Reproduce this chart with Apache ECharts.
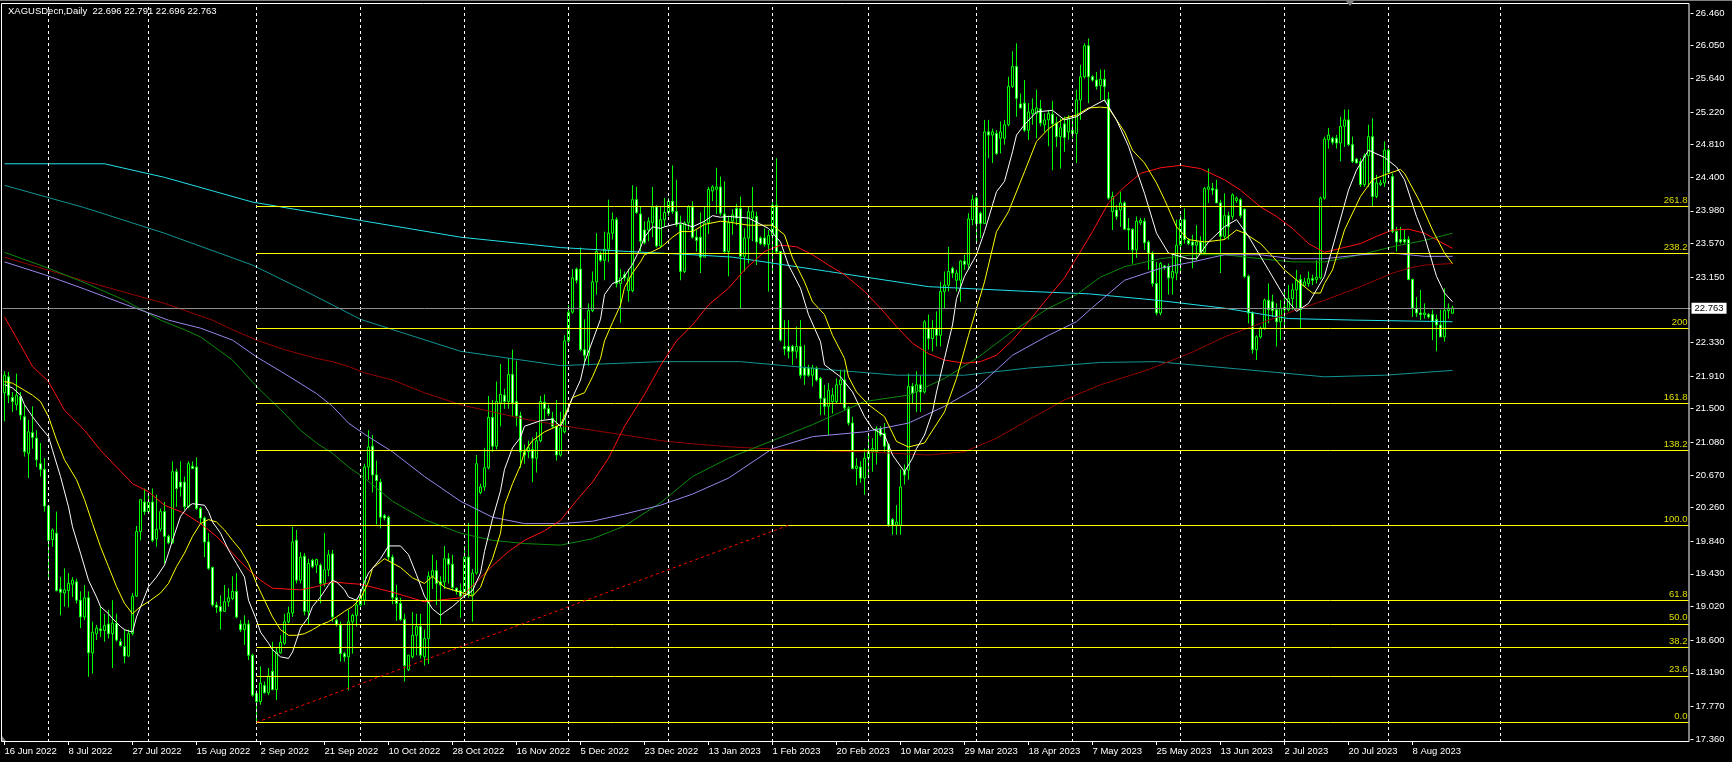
<!DOCTYPE html>
<html><head><meta charset="utf-8">
<script src="https://cdn.jsdelivr.net/npm/echarts/dist/echarts.min.js"></script>
<style>html,body{margin:0;padding:0;background:#000;}#c{width:1732px;height:762px;}</style>
</head><body><div id="c"></div>
<script>
const symbolTitle = 'XAGUSDecn,Daily  22.696 22.791 22.696 22.763';
const dateLabels = ['16 Jun 2022','8 Jul 2022','27 Jul 2022','15 Aug 2022','2 Sep 2022','21 Sep 2022','10 Oct 2022','28 Oct 2022','16 Nov 2022','5 Dec 2022','23 Dec 2022','13 Jan 2023','1 Feb 2023','20 Feb 2023','10 Mar 2023','29 Mar 2023','18 Apr 2023','7 May 2023','25 May 2023','13 Jun 2023','2 Jul 2023','20 Jul 2023','8 Aug 2023'];
const BARS_PER_LABEL = 16;
const TOTAL_SLOTS = 422;
const priceTicks = [26.460,26.050,25.640,25.220,24.810,24.400,23.980,23.570,23.150,22.330,21.910,21.500,21.080,20.670,20.260,19.840,19.430,19.020,18.600,18.190,17.770,17.360];
const monthStartBars = [11,36,63,89,115,141,166,192,216,243,267,294,320,346,374];

// OHLC, one entry per daily bar
const open = [
21.70,21.90,21.64,21.55,21.65,21.40,20.94,21.20,21.13,20.81,
20.74,20.28,19.86,19.94,19.24,19.19,19.22,19.30,19.33,19.10,
18.89,19.13,18.44,18.68,18.74,18.72,18.80,18.68,18.81,18.58,
18.52,18.40,18.68,19.15,19.96,20.33,20.21,20.33,19.87,19.99,
20.21,19.90,19.82,20.71,20.58,20.58,20.27,20.78,20.77,20.25,
20.13,19.83,19.51,19.04,19.02,18.96,19.08,19.12,19.21,18.80,
18.73,18.80,18.41,17.93,17.83,18.03,17.94,18.21,17.98,18.44,
18.56,18.83,18.94,19.85,19.35,19.65,18.96,19.60,19.54,19.54,
19.31,19.48,19.68,18.85,18.79,18.43,18.39,18.83,18.91,19.04,
19.10,20.77,21.03,20.67,20.58,20.16,20.14,19.64,19.13,19.06,
18.86,18.23,18.39,18.66,18.77,18.39,18.62,19.40,19.47,19.33,
19.33,19.62,19.55,19.25,19.22,19.15,19.64,19.17,19.44,20.45,
20.52,20.76,21.39,21.03,21.57,21.67,21.59,21.93,21.59,21.41,
20.96,20.96,20.99,20.88,21.10,21.58,21.50,21.38,21.28,20.92,
21.21,22.35,22.71,23.25,23.25,22.24,22.17,22.73,23.09,23.43,
23.36,23.50,23.70,23.87,23.07,23.18,22.98,22.98,24.12,23.94,
23.74,23.74,23.83,24.03,23.54,23.87,23.96,24.10,23.97,23.81,
23.22,23.83,24.03,23.65,23.65,23.40,23.83,24.23,24.25,24.28,
23.94,23.47,23.85,24.01,24.01,23.41,23.64,23.89,23.91,23.64,
23.64,23.56,23.67,24.05,23.47,22.28,22.28,22.28,22.22,22.28,
22.01,22.01,21.92,22.01,21.88,21.63,21.53,21.59,21.59,21.80,
21.86,21.51,21.32,20.75,20.77,20.63,20.88,20.96,20.96,21.25,
21.19,21.05,20.11,20.04,20.04,20.73,20.73,21.78,21.71,21.80,
21.71,22.51,22.38,22.51,22.42,22.97,23.05,23.26,23.11,23.11,
23.35,23.31,23.87,24.14,23.95,23.82,24.97,24.93,24.95,24.89,
24.89,25.06,25.54,25.79,25.32,25.33,24.99,25.20,25.20,25.26,
25.06,25.12,25.19,25.08,24.91,25.07,24.97,24.99,24.95,25.37,
25.66,26.05,25.66,25.62,25.55,25.63,25.38,23.97,23.99,23.99,
24.08,23.76,23.75,23.49,23.83,23.85,23.59,23.45,23.07,22.70,
23.29,23.28,23.14,23.20,23.55,23.87,23.61,23.59,23.55,23.59,
23.46,24.25,24.26,24.25,24.08,23.66,23.92,23.91,24.11,24.12,
24.00,23.16,22.70,22.24,22.40,22.51,22.86,22.84,22.74,22.59,
22.74,22.74,22.88,22.99,23.12,23.04,23.07,23.13,23.12,23.14,
24.14,24.87,24.89,24.89,24.83,25.04,25.12,24.81,24.63,24.60,
24.31,24.67,24.91,24.16,24.31,24.33,24.74,24.41,23.72,23.62,
23.62,23.62,23.12,22.76,22.70,22.68,22.68,22.68,22.62,22.55,
22.40,22.73,22.696];
const high = [
21.97,21.96,21.71,21.94,21.71,21.55,21.36,21.53,21.23,21.07,
20.88,20.29,20.00,20.21,19.39,19.50,19.44,19.39,19.37,19.21,
19.29,19.21,18.83,18.79,19.02,18.93,18.98,19.10,18.93,18.62,
18.74,18.73,19.19,20.03,20.36,20.50,20.44,20.50,20.42,20.25,
20.33,19.92,20.84,20.75,20.84,20.65,20.84,20.84,20.89,20.27,
20.15,19.94,19.52,19.08,19.16,19.29,19.25,19.40,19.44,18.85,
18.91,18.85,18.43,17.97,18.27,18.08,18.25,18.58,18.50,18.66,
18.93,19.02,20.02,19.98,19.70,19.69,19.62,19.62,19.62,19.56,
19.94,19.73,19.73,18.87,18.83,18.45,18.98,18.93,19.12,19.21,
20.81,21.23,21.17,20.85,20.62,20.18,20.16,19.67,19.29,19.13,
18.93,18.41,18.95,18.93,18.93,18.73,19.46,19.67,19.60,19.40,
19.78,19.69,19.67,19.26,19.31,19.78,20.07,19.49,20.92,20.56,
21.01,21.66,21.61,21.84,22.06,21.75,22.13,22.24,22.10,21.46,
21.05,21.10,21.14,21.21,21.66,21.68,21.55,21.46,21.61,21.46,
22.42,22.80,23.25,23.27,23.52,22.62,22.82,23.22,23.70,23.47,
23.72,24.12,23.96,23.90,23.25,23.22,23.25,24.30,24.28,24.03,
23.85,23.90,24.28,24.05,24.03,24.14,24.14,24.55,24.37,23.92,
23.85,24.05,24.10,23.74,23.96,24.03,24.28,24.30,24.52,24.41,
24.35,23.92,24.00,24.07,24.16,23.76,24.03,24.28,23.97,23.66,
23.76,23.74,24.09,24.64,23.47,22.61,22.61,22.30,22.53,22.61,
22.30,22.05,22.05,22.03,21.90,21.80,21.82,21.76,21.88,21.99,
21.99,21.53,21.40,20.88,20.84,21.00,21.19,21.13,21.28,21.28,
21.32,21.07,20.13,20.29,20.74,20.80,21.94,21.82,21.97,21.92,
22.61,22.68,22.61,22.72,23.09,23.22,23.53,23.28,23.24,23.36,
23.43,23.95,24.18,24.16,23.97,25.12,25.12,25.01,24.99,25.10,
25.12,25.66,25.98,26.08,25.45,25.62,25.33,25.39,25.50,25.37,
25.20,25.24,25.36,25.16,25.14,25.16,25.18,25.14,25.50,25.81,
26.08,26.14,25.68,25.72,25.75,25.75,25.47,24.22,24.05,24.22,
24.10,23.89,23.76,23.91,23.89,23.89,23.61,23.47,23.34,23.34,
23.30,23.32,23.43,23.87,23.93,24.01,23.64,23.68,23.80,23.66,
24.28,24.51,24.33,24.37,24.12,24.20,23.97,24.20,24.16,24.14,
24.01,23.18,22.72,22.42,22.53,22.88,23.07,22.93,22.82,22.86,
22.99,23.05,23.07,23.24,23.18,23.14,23.22,23.18,23.36,24.16,
24.91,25.02,24.91,24.93,25.16,25.25,25.25,24.91,24.64,24.64,
24.70,25.06,25.14,24.43,24.37,24.85,24.76,24.45,23.78,23.78,
23.74,23.66,23.13,22.90,22.99,22.82,22.70,22.74,22.68,22.74,
23.01,22.82,22.791];
const low = [
21.34,21.57,21.46,21.48,21.36,20.90,20.63,21.00,20.77,20.65,
20.21,19.39,19.77,19.21,18.91,19.02,19.01,19.14,19.06,18.75,
18.85,18.14,18.18,18.60,18.64,18.58,18.62,18.25,18.58,18.52,
18.31,18.39,18.66,19.14,19.85,20.17,20.19,19.83,19.77,19.96,
19.56,19.80,19.81,20.27,20.40,20.23,20.25,20.75,20.23,20.06,
19.64,19.48,19.02,18.94,18.73,18.96,19.02,19.10,18.87,18.70,
18.54,18.35,17.89,17.569,17.79,17.93,17.91,17.97,17.85,18.43,
18.54,18.81,18.89,19.31,19.31,18.91,18.79,19.50,19.44,19.06,
19.27,19.40,18.83,18.77,18.33,18.33,17.97,18.43,18.77,19.02,
19.04,20.61,20.45,20.05,20.00,20.10,19.60,19.05,18.84,18.84,
18.08,18.21,18.37,18.41,18.37,18.28,18.30,19.24,19.04,18.79,
19.24,19.31,19.22,19.17,18.88,19.13,19.13,18.83,19.42,20.43,
20.47,20.74,20.96,20.99,21.28,21.50,21.50,21.41,21.28,20.76,
20.81,20.88,20.58,20.70,21.08,21.37,21.41,21.26,20.85,20.90,
21.19,22.33,22.69,23.07,22.22,22.04,22.04,22.71,22.93,23.34,
23.11,23.34,23.62,23.02,22.58,23.10,22.84,22.96,23.94,23.47,
23.56,23.60,23.65,23.52,23.52,23.78,23.92,23.94,23.78,23.11,
23.20,23.74,23.63,23.47,23.20,23.40,23.69,24.10,23.94,23.92,
23.45,23.16,23.68,23.80,22.76,23.22,23.32,23.60,23.30,23.55,
23.53,22.97,23.22,23.45,22.34,22.17,22.13,22.05,22.13,21.88,
21.80,21.90,21.78,21.84,21.42,21.42,21.17,21.44,21.57,21.57,
21.48,21.29,20.74,20.54,20.57,20.42,20.67,20.71,20.80,21.15,
20.96,20.02,19.92,19.92,19.92,20.55,20.61,21.57,21.46,21.46,
21.69,22.24,22.22,22.28,22.28,22.76,22.97,23.14,22.97,22.84,
23.24,23.24,23.80,23.57,23.64,23.82,24.64,24.58,24.68,24.70,
24.81,25.04,25.52,25.16,25.27,24.97,24.87,25.06,24.89,25.04,
24.97,24.79,24.49,24.78,24.51,24.72,24.87,24.89,24.58,25.12,
25.64,25.33,25.60,25.50,25.37,25.35,24.12,23.74,23.87,23.78,
23.74,23.49,23.32,23.39,23.80,23.49,23.24,23.03,22.67,22.67,
23.24,22.93,22.93,23.11,23.20,23.57,23.55,23.26,23.36,23.43,
23.43,24.08,24.18,24.08,23.20,23.62,23.62,23.87,24.08,23.89,
23.14,22.57,22.19,22.11,22.38,22.49,22.57,22.65,22.28,22.36,
22.53,22.72,22.74,22.74,22.51,23.03,23.03,23.05,23.07,23.12,
24.12,24.76,24.81,24.76,24.60,24.78,24.79,24.58,24.58,24.28,
24.28,24.28,24.03,24.14,24.29,24.28,24.45,23.70,23.47,23.57,
23.57,23.11,22.65,22.65,22.61,22.63,22.63,22.36,22.22,22.40,
22.34,22.63,22.696];
const close = [
21.92,21.67,21.59,21.67,21.42,20.96,21.21,21.14,20.86,20.74,
20.28,19.85,19.98,19.22,19.20,19.23,19.31,19.35,19.10,18.89,
19.13,18.44,18.70,18.75,18.72,18.78,18.68,18.81,18.60,18.53,
18.40,18.68,19.15,19.96,20.36,20.21,20.33,19.85,19.99,20.21,
19.90,19.82,20.71,20.50,20.52,20.27,20.81,20.75,20.25,20.13,
19.83,19.50,19.04,19.01,18.96,19.08,19.13,19.21,18.89,18.73,
18.80,18.41,17.91,17.83,18.06,17.94,18.15,17.98,18.45,18.57,
18.83,18.94,19.83,19.35,19.64,18.96,19.56,19.52,19.61,19.31,
19.48,19.67,18.89,18.79,18.43,18.39,18.83,18.91,19.04,19.14,
20.77,21.02,20.67,20.60,20.14,20.13,19.64,19.13,19.06,18.86,
18.28,18.41,18.66,18.77,18.41,18.62,19.40,19.47,19.31,19.29,
19.62,19.55,19.26,19.21,19.15,19.64,19.17,19.44,20.81,20.52,
20.76,21.39,21.03,21.59,21.68,21.59,21.93,21.57,21.41,20.96,
20.92,21.01,20.88,21.10,21.59,21.50,21.44,21.28,20.92,21.26,
22.35,22.71,23.14,23.11,22.24,22.17,22.73,23.09,23.47,23.36,
23.50,23.70,23.87,23.07,23.14,23.14,23.14,24.12,23.96,23.60,
23.58,23.85,24.03,23.54,23.87,23.96,24.10,23.97,23.81,23.22,
23.83,24.03,23.65,23.61,23.40,23.83,24.25,24.28,24.28,23.95,
23.47,23.83,23.93,23.89,23.41,23.64,23.97,23.97,23.59,23.57,
23.56,23.67,24.05,23.47,22.36,22.25,22.22,22.22,22.28,21.92,
21.92,21.92,22.01,21.86,21.63,21.53,21.73,21.67,21.80,21.86,
21.51,21.32,20.75,20.78,20.63,20.88,20.98,21.00,21.25,21.17,
21.03,20.04,20.04,20.08,20.52,20.67,21.78,21.69,21.80,21.71,
22.59,22.38,22.51,22.42,22.97,23.05,23.22,23.20,23.20,23.35,
23.31,23.88,24.12,23.82,23.82,24.97,24.93,24.97,24.70,24.97,
25.06,25.54,25.79,25.39,25.27,24.99,25.22,25.25,25.27,25.08,
25.12,25.20,25.07,24.91,25.02,24.90,25.14,24.95,25.37,25.66,
26.05,25.66,25.62,25.54,25.63,25.54,24.14,24.16,23.91,24.08,
23.75,23.74,23.49,23.85,23.86,23.58,23.45,23.07,22.70,23.32,
23.27,23.14,23.22,23.55,23.87,23.62,23.57,23.55,23.59,23.46,
24.26,24.28,24.24,24.08,23.66,23.92,23.78,24.18,24.14,23.92,
23.16,22.70,22.24,22.40,22.51,22.86,22.74,22.73,22.59,22.76,
22.77,22.88,22.99,23.11,22.74,23.09,23.13,23.11,23.15,24.14,
24.88,24.93,24.84,24.83,25.04,25.12,24.81,24.60,24.58,24.31,
24.67,24.91,24.16,24.33,24.33,24.74,24.47,23.72,23.59,23.59,
23.59,23.12,22.76,22.70,22.68,22.70,22.65,22.59,22.55,22.40,
22.73,22.76,22.763];

// indicator lines: [bar, price]
const maWhite = [[0,21.80],[2,21.76],[4,21.67],[5,21.55],[7,21.40],[9,21.27],[11,21.15],[12,20.98],[14,20.65],[16,20.27],[17,20.02],[19,19.69],[21,19.35],[23,19.14],[24,19.02],[26,18.93],[27,18.87],[29,18.77],[30,18.73],[32,18.70],[33,18.89],[35,19.14],[36,19.27],[38,19.39],[40,19.54],[41,19.69],[42,19.85],[44,20.15],[46,20.28],[47,20.31],[50,20.29],[51,20.21],[52,20.08],[54,19.94],[56,19.73],[58,19.56],[60,19.39],[61,19.10],[63,18.85],[64,18.70],[66,18.56],[67,18.48],[69,18.39],[71,18.37],[72,18.45],[73,18.60],[74,18.75],[76,18.89],[77,19.02],[79,19.14],[81,19.29],[82,19.35],[83,19.33],[85,19.23],[86,19.14],[88,19.10],[89,19.19],[90,19.33],[91,19.44],[94,19.62],[96,19.78],[99,19.78],[101,19.67],[103,19.42],[105,19.15],[107,18.99],[109,18.91],[110,18.95],[112,19.02],[114,19.11],[115,19.15],[117,19.22],[119,19.44],[120,19.71],[122,20.12],[124,20.47],[125,20.74],[127,21.01],[129,21.14],[130,21.28],[134,21.35],[137,21.37],[139,21.28],[140,21.37],[142,21.64],[144,21.86],[145,22.08],[147,22.35],[149,22.62],[150,22.93],[152,23.07],[154,23.11],[155,23.16],[157,23.31],[159,23.52],[160,23.65],[162,23.78],[164,23.76],[165,23.78],[169,23.83],[172,23.78],[175,23.85],[177,23.92],[179,23.90],[181,23.91],[186,23.89],[191,23.76],[194,23.59],[196,23.30],[199,23.01],[201,22.68],[204,22.34],[205,22.05],[209,21.90],[212,21.71],[215,21.40],[217,21.25],[220,21.17],[222,20.92],[225,20.71],[227,20.88],[228,21.00],[230,21.17],[232,21.46],[233,21.71],[235,22.13],[237,22.55],[238,22.88],[240,23.16],[243,23.43],[245,23.72],[248,24.22],[250,24.35],[252,24.72],[253,24.93],[255,25.06],[258,25.22],[262,25.24],[265,25.12],[268,25.16],[272,25.29],[275,25.37],[278,25.12],[281,24.79],[283,24.49],[285,24.20],[288,23.70],[291,23.45],[296,23.38],[298,23.38],[301,23.59],[305,23.78],[308,23.87],[311,23.66],[316,23.24],[320,22.90],[323,22.72],[326,22.82],[330,23.16],[333,23.70],[336,24.24],[338,24.49],[341,24.74],[345,24.65],[348,24.53],[350,24.37],[353,23.91],[355,23.66],[358,23.16],[360,22.95],[362,22.84]];
const maYellow = [[0,21.84],[2,21.82],[5,21.73],[7,21.67],[9,21.59],[11,21.40],[13,21.11],[15,20.86],[18,20.61],[20,20.36],[22,20.06],[24,19.77],[26,19.52],[28,19.27],[30,19.06],[32,18.93],[34,19.02],[36,19.08],[39,19.19],[41,19.31],[43,19.52],[45,19.69],[47,19.90],[49,20.06],[51,20.11],[53,20.08],[55,19.98],[57,19.85],[59,19.73],[61,19.56],[63,19.31],[65,19.10],[67,18.89],[69,18.73],[71,18.66],[73,18.66],[75,18.68],[77,18.73],[79,18.79],[81,18.83],[83,18.89],[85,18.96],[87,19.02],[89,19.12],[91,19.33],[92,19.50],[95,19.62],[99,19.51],[102,19.38],[105,19.31],[107,19.40],[110,19.26],[114,19.20],[117,19.15],[119,19.26],[120,19.40],[122,19.62],[124,19.94],[125,20.29],[127,20.56],[129,20.79],[130,20.96],[132,21.10],[135,21.21],[139,21.30],[140,21.41],[142,21.64],[145,21.70],[147,21.90],[149,22.13],[150,22.35],[152,22.58],[154,22.80],[155,23.02],[157,23.20],[159,23.34],[160,23.43],[162,23.47],[164,23.52],[165,23.56],[167,23.65],[169,23.72],[172,23.72],[175,23.81],[179,23.85],[181,23.84],[186,23.80],[192,23.80],[195,23.68],[197,23.39],[200,23.09],[202,22.84],[205,22.68],[207,22.42],[210,22.13],[211,21.90],[213,21.71],[216,21.55],[220,21.40],[223,21.09],[226,21.02],[230,21.07],[231,21.15],[235,21.46],[238,21.88],[241,22.42],[245,23.09],[248,23.72],[251,23.97],[255,24.47],[258,24.85],[261,25.01],[265,25.14],[268,25.18],[271,25.27],[274,25.28],[276,25.27],[278,25.12],[280,24.97],[282,24.74],[285,24.58],[288,24.33],[290,24.12],[293,23.78],[296,23.62],[300,23.59],[305,23.62],[308,23.74],[310,23.70],[314,23.57],[317,23.41],[320,23.24],[324,23.07],[327,22.95],[329,22.95],[330,23.07],[332,23.24],[335,23.74],[339,24.16],[342,24.37],[345,24.43],[349,24.50],[350,24.45],[354,24.08],[357,23.74],[360,23.45],[362,23.32]];
const maRed = [[0,22.65],[4,22.30],[7,22.03],[11,21.84],[15,21.48],[20,21.23],[24,20.98],[28,20.77],[32,20.56],[36,20.46],[40,20.29],[45,20.19],[49,20.06],[53,19.90],[57,19.69],[61,19.48],[64,19.35],[67,19.25],[74,19.23],[78,19.27],[82,19.33],[86,19.31],[89,19.30],[97,19.20],[105,19.08],[114,19.13],[118,19.33],[122,19.53],[126,19.71],[130,19.85],[135,19.97],[139,20.10],[143,20.35],[147,20.58],[151,20.88],[155,21.28],[160,21.68],[164,22.04],[168,22.35],[172,22.55],[176,22.80],[181,23.01],[185,23.24],[190,23.47],[194,23.55],[198,23.53],[202,23.43],[206,23.30],[210,23.18],[215,22.97],[219,22.76],[223,22.53],[227,22.32],[231,22.19],[235,22.11],[240,22.07],[244,22.09],[248,22.17],[252,22.36],[256,22.59],[260,22.84],[265,23.14],[269,23.47],[272,23.72],[276,24.08],[280,24.28],[284,24.45],[289,24.52],[294,24.55],[299,24.51],[305,24.37],[309,24.24],[314,24.03],[318,23.91],[322,23.76],[326,23.57],[330,23.46],[334,23.51],[339,23.57],[343,23.66],[347,23.74],[351,23.75],[355,23.70],[359,23.59],[362,23.51]];
const maGreen = [[0,23.46],[10,23.28],[20,23.08],[30,22.86],[39,22.61],[45,22.49],[49,22.40],[57,22.11],[63,21.78],[70,21.44],[74,21.23],[78,21.07],[82,20.94],[86,20.77],[90,20.63],[97,20.34],[105,20.11],[114,19.94],[122,19.85],[130,19.81],[139,19.79],[147,19.87],[155,20.03],[164,20.32],[172,20.65],[181,20.88],[192,21.10],[202,21.30],[215,21.59],[226,21.67],[235,21.88],[243,22.13],[252,22.47],[261,22.76],[268,22.93],[274,23.15],[280,23.28],[289,23.38],[297,23.43],[305,23.43],[314,23.38],[322,23.34],[330,23.34],[339,23.43],[347,23.53],[355,23.61],[362,23.70]];
const maLavender = [[0,23.34],[10,23.18],[20,23.00],[30,22.81],[41,22.61],[49,22.51],[57,22.36],[63,22.15],[70,21.94],[78,21.69],[82,21.53],[86,21.32],[90,21.18],[97,20.96],[105,20.65],[114,20.34],[122,20.14],[130,20.06],[139,20.06],[147,20.09],[155,20.18],[164,20.29],[172,20.43],[181,20.63],[192,21.00],[202,21.15],[215,21.21],[226,21.32],[235,21.53],[243,21.76],[252,22.17],[261,22.42],[268,22.59],[272,22.77],[280,23.11],[289,23.26],[297,23.34],[305,23.43],[314,23.43],[322,23.38],[330,23.38],[339,23.43],[347,23.45],[355,23.41],[362,23.41]];
const maCyan = [[0,24.57],[25,24.57],[40,24.40],[62,24.09],[89,23.86],[114,23.65],[139,23.52],[156,23.47],[172,23.43],[182,23.40],[206,23.22],[231,23.03],[256,22.97],[271,22.94],[288,22.86],[305,22.76],[321,22.63],[338,22.61],[362,22.59]];
const maTeal = [[0,24.30],[20,24.02],[40,23.70],[62,23.30],[75,22.98],[89,22.62],[114,22.22],[139,22.04],[164,22.09],[184,22.09],[206,21.99],[223,21.92],[240,21.92],[256,22.01],[274,22.08],[288,22.09],[308,22.00],[330,21.90],[345,21.92],[362,21.98]];
const maDarkRed = [[0,23.40],[20,23.10],[40,22.82],[52,22.61],[57,22.49],[63,22.36],[70,22.24],[78,22.13],[82,22.09],[86,22.03],[90,21.95],[97,21.86],[105,21.70],[114,21.55],[122,21.46],[130,21.37],[139,21.29],[147,21.23],[155,21.17],[164,21.10],[172,21.06],[182,21.02],[198,20.98],[215,20.96],[231,20.92],[240,20.96],[248,21.13],[256,21.36],[265,21.61],[274,21.80],[286,21.99],[297,22.21],[305,22.40],[314,22.57],[322,22.72],[330,22.86],[339,23.03],[347,23.20],[351,23.26],[355,23.30],[362,23.32]];

const fibLevels = [['0.0',17.569],['23.6',18.152],['38.2',18.513],['50.0',18.804],['61.8',19.095],['100.0',20.039],['138.2',20.983],['161.8',21.565],['200',22.509],['238.2',23.453],['261.8',24.036]];
const fibStartBar = 63;
const trendLine = [[63,17.569],[196,20.039]];
const lastPrice = 22.763;

const Y_MIN = 17.3225, Y_MAX = 26.5853;
const FONT = 'Liberation Sans, Arial, sans-serif';

const categories = Array.from({length: TOTAL_SLOTS}, (_, i) => String(i));
const candleData = open.map((o, i) => [o, close[i], low[i], high[i]]);

function lineSeries(data, color) {
  return {type:'line', data, showSymbol:false, symbol:'none', smooth:false, silent:true, z:4,
    lineStyle:{color, width:1}, animation:false};
}

const chart = echarts.init(document.getElementById('c'), null, {renderer:'canvas'});
chart.setOption({
  backgroundColor:'#000',
  animation:false,
  grid:{left:2.5, top:3, width:1688, height:739, containLabel:false},
  xAxis:{
    type:'category', data:categories, boundaryGap:true,
    axisLine:{show:false},
    axisTick:{show:true, alignWithLabel:true, length:3, lineStyle:{color:'#fff'},
      interval:(i)=> i % BARS_PER_LABEL === 0 && i / BARS_PER_LABEL < dateLabels.length},
    axisLabel:{show:true, color:'#fff', fontSize:9.5, fontFamily:FONT, margin:4, align:'left',
      interval:(i)=> i % BARS_PER_LABEL === 0 && i / BARS_PER_LABEL < dateLabels.length,
      formatter:(v, i)=> dateLabels[Math.round(Number(v) / BARS_PER_LABEL)] || ''},
    splitLine:{show:false}
  },
  yAxis:{
    type:'value', position:'right', min:Y_MIN, max:Y_MAX, scale:true,
    axisLine:{show:false}, splitLine:{show:false},
    axisTick:{show:true, length:3, lineStyle:{color:'#fff'}, customValues:priceTicks},
    axisLabel:{show:true, color:'#fff', fontSize:9.5, fontFamily:FONT, margin:5,
      customValues:priceTicks, formatter:(v)=> Number(v).toFixed(3)}
  },
  graphic:[
    {type:'line', shape:{x1:0,y1:0.5,x2:1732,y2:0.5}, style:{stroke:'#808080', lineWidth:1}, silent:true},
    {type:'rect', shape:{x:1.5,y:3.5,width:1687.5,height:738}, style:{fill:null, stroke:'#fff', lineWidth:1}, silent:true, z:100},
    {type:'text', left:8, top:6, style:{text:symbolTitle, fill:'#fff', font:'9.5px ' + FONT}, silent:true, z:100},
    {type:'polygon', shape:{points:[[1346,1],[1354,1],[1350,6]]}, style:{fill:'#808080'}, silent:true, z:100},
    {type:'polygon', shape:{points:[[2,736],[2,741],[6,741]]}, style:{fill:'#808080'}, silent:true, z:100}
  ],
  series:[
    {type:'line', data:[], z:1, silent:true,
      markLine:{silent:true, symbol:['none','none'], animation:false,
        label:{show:false},
        lineStyle:{color:'#fff', type:[3,3], width:1},
        data: monthStartBars.map(b => ({xAxis: b}))}},
    {type:'candlestick', data:candleData, barWidth:2, z:3, silent:true,
      itemStyle:{color:'#000', color0:'#fff', borderColor:'#00ff00', borderColor0:'#00ff00', borderWidth:1}},
    lineSeries(maCyan, '#22e0e8'),
    lineSeries(maTeal, '#129494'),
    lineSeries(maDarkRed, '#960000'),
    lineSeries(maGreen, '#0a8a0a'),
    lineSeries(maLavender, '#9a86ea'),
    lineSeries(maRed, '#ff1010'),
    lineSeries(maYellow, '#ffff00'),
    lineSeries(maWhite, '#ffffff'),
    {type:'line', data:[], z:5, silent:true,
      markLine:{silent:true, symbol:['none','none'], animation:false,
        lineStyle:{color:'#ffff00', type:'solid', width:1},
        label:{show:true, position:'insideEndTop', color:'#dede00', fontSize:9.5, fontFamily:FONT, distance:1,
          formatter:(p)=> fibLevels[p.dataIndex] ? fibLevels[p.dataIndex][0] : ''},
        data: fibLevels.map(([lbl, p]) => [{coord:[fibStartBar, p]}, {coord:[TOTAL_SLOTS - 1, p]}])}},
    {type:'line', data:[], z:5, silent:true,
      markLine:{silent:true, symbol:['none','none'], animation:false,
        lineStyle:{color:'#ff0000', type:[3,3], width:1}, label:{show:false},
        data:[[{coord:trendLine[0]}, {coord:trendLine[1]}]]}},
    {type:'line', data:[], z:6, silent:true,
      markLine:{silent:true, symbol:['none','none'], animation:false,
        lineStyle:{color:'#8c8c8c', type:'solid', width:1},
        label:{show:true, position:'end', distance:1, formatter: lastPrice.toFixed(3), color:'#000',
          backgroundColor:'#fff', padding:[1,3,0,3], fontSize:9.5, fontFamily:FONT},
        data:[{yAxis:lastPrice}]}}
  ]
});
</script></body></html>
